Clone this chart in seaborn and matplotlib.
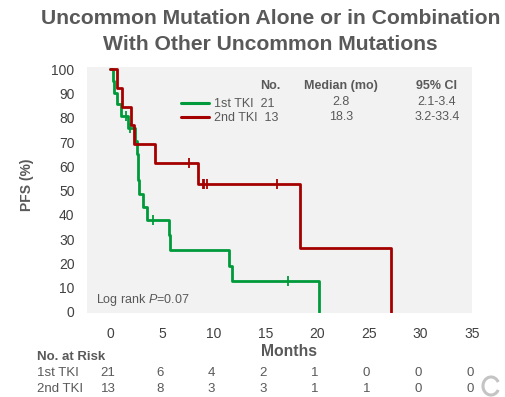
import numpy as np
import pandas as pd
import matplotlib
matplotlib.use("Agg")
import matplotlib.pyplot as plt
import seaborn as sns
from matplotlib.lines import Line2D
from matplotlib.patches import Arc
from matplotlib.transforms import blended_transform_factory

# ---------------- data ----------------
groups = ["1st TKI", "2nd TKI"]
n_patients = [21, 13]
medians = ["2.8", "18.3"]
ci95 = ["2.1-3.4", "3.2-33.4"]

tki1_times = [0.3, 0.4, 0.65, 1.0, 1.5, 1.7, 1.9, 2.4, 2.6, 2.65, 2.7, 2.75,
              3.2, 3.6, 4.1, 5.65, 5.8, 11.5, 11.8, 17.2, 20.2]
tki1_event = [1, 1, 1, 1, 0, 1, 0, 1, 1, 1, 1, 1,
              1, 1, 0, 1, 1, 1, 1, 0, 1]

tki2_times = [0.65, 1.15, 2.0, 2.3, 4.3, 7.6, 8.5, 9.0, 9.05, 9.35, 16.1, 18.4, 27.2]
tki2_event = [1, 1, 1, 1, 1, 0, 1, 0, 0, 0, 0, 1, 1]

risk_times = [0, 5, 10, 15, 20, 25, 30, 35]
risk_1st = [21, 6, 4, 2, 1, 0, 0, 0]
risk_2nd = [13, 8, 3, 3, 1, 1, 0, 0]

x_ticks = [0, 5, 10, 15, 20, 25, 30, 35]
y_ticks = [0, 10, 20, 30, 40, 50, 60, 70, 80, 90, 100]

colors = ["#009A3A", "#A50000"]


def km(times, events):
    t = np.asarray(times, float)
    e = np.asarray(events, int)
    order = np.lexsort((1 - e, t))
    t, e = t[order], e[order]
    at_risk = len(t)
    s = 1.0
    xs, ys = [0.0], [100.0]
    cens_x, cens_y = [], []
    for ti, ei in zip(t, e):
        if ei:
            s *= (at_risk - 1) / at_risk
            xs.append(ti)
            ys.append(s * 100)
        else:
            cens_x.append(ti)
            cens_y.append(s * 100)
        at_risk -= 1
    return xs, ys, cens_x, cens_y


# ---------------- style ----------------
sns.set_theme(style="white")
plt.rcParams["font.family"] = ["Liberation Sans", "DejaVu Sans"]
plt.rcParams["mathtext.fontset"] = "custom"
plt.rcParams["mathtext.rm"] = "Liberation Sans"
plt.rcParams["mathtext.it"] = "Liberation Sans:italic"

txt = "#595959"
fig = plt.figure(figsize=(5.06, 3.97), dpi=100)
ax = fig.add_axes([87 / 506, 1 - 313 / 397, (472 - 87) / 506, (313 - 67) / 397])
ax.set_facecolor("#F2F2F2")

frames = []
cens_frames = []
for g, tt, ee in [(groups[0], tki1_times, tki1_event), (groups[1], tki2_times, tki2_event)]:
    xs, ys, cx, cy = km(tt, ee)
    frames.append(pd.DataFrame({"Months": xs, "PFS": ys, "group": g}))
    cens_frames.append(pd.DataFrame({"Months": cx, "PFS": cy, "group": g}))
df = pd.concat(frames, ignore_index=True)
dfc = pd.concat(cens_frames, ignore_index=True)

palette = dict(zip(groups, colors))
for g in groups:
    sub = df[df.group == g]
    sns.lineplot(data=sub, x="Months", y="PFS", drawstyle="steps-post",
                 color=palette[g], lw=2.0, ax=ax, legend=False,
                 estimator=None, sort=False)
    subc = dfc[dfc.group == g]
    ax.plot(subc["Months"], subc["PFS"], ls="none", marker="|",
            ms=7, mew=1.3, color=palette[g])

ax.set_xlim(-2.25, 35)
ax.set_ylim(-0.5, 101)
ax.set_xticks(x_ticks)
ax.set_yticks(y_ticks)
ax.tick_params(axis="both", length=0, labelsize=10, colors="#404040")
ax.tick_params(axis="y", pad=9)
ax.tick_params(axis="x", pad=10)
for s in ax.spines.values():
    s.set_visible(False)
ax.set_xlabel("")
ax.set_ylabel("")
fig.text(27.5 / 506, 1 - 185 / 397, "PFS (%)", rotation=90, ha="center", va="center",
         fontsize=10, fontweight="bold", color=txt)

# title
fig.text(0.535, 1 - 18 / 397, "Uncommon Mutation Alone or in Combination",
         ha="center", va="center", fontsize=15.2, fontweight="bold", color=txt)
fig.text(0.535, 1 - 44 / 397, "With Other Uncommon Mutations",
         ha="center", va="center", fontsize=15.2, fontweight="bold", color=txt)

# x label
fig.text(289 / 506, 1 - 352 / 397, "Months", ha="center", va="center",
         fontsize=11.3, fontweight="bold", color=txt)

# legend
handles = [Line2D([], [], color=c, lw=2.2) for c in colors]
labels = [f"{g}  {n}" for g, n in zip(groups, n_patients)]
leg = ax.legend(handles, labels, loc="upper left", frameon=False,
                bbox_to_anchor=(175 / 506, 1 - 92 / 397), bbox_transform=fig.transFigure,
                fontsize=9, handlelength=2.2, handletextpad=0.45, labelspacing=0.15,
                borderpad=0)
for t in leg.get_texts():
    t.set_color(txt)

fig.text(270 / 506, 1 - 86 / 397, "No.", ha="center", va="center",
         fontsize=9, fontweight="bold", color=txt)
fig.text(341 / 506, 1 - 86 / 397, "Median (mo)", ha="center", va="center",
         fontsize=9, fontweight="bold", color=txt)
fig.text(437 / 506, 1 - 86 / 397, "95% CI", ha="center", va="center",
         fontsize=9, fontweight="bold", color=txt)
for i, (m, c) in enumerate(zip(medians, ci95)):
    yy = 1 - (102 + 15.5 * i) / 397
    fig.text(341 / 506, yy, m, ha="center", va="center", fontsize=9, color=txt)
    fig.text(437 / 506, yy, c, ha="center", va="center", fontsize=9, color=txt)

ax.text(96 / 506, 1 - 300 / 397, r"Log rank $\it{P}$=0.07", transform=fig.transFigure,
        ha="left", va="center", fontsize=9, color=txt)

# number at risk
fig.text(37 / 506, 1 - 357 / 397, "No. at Risk", ha="left", va="center",
         fontsize=9.5, fontweight="bold", color=txt)
tr = blended_transform_factory(ax.transData, fig.transFigure)
for row, (g, vals) in enumerate(zip(groups, [risk_1st, risk_2nd])):
    yy = 1 - (373 + 16 * row) / 397
    fig.text(37 / 506, yy, g, ha="left", va="center", fontsize=9.5, color=txt)
    for tx, v in zip(risk_times, vals):
        ax.text(tx - 0.2, yy, str(v), transform=tr, ha="center", va="center",
                fontsize=9.5, color=txt, clip_on=False)

# small decorative circle icon at bottom right
arc = Arc((491 / 506, 1 - 386 / 397), 16 / 506, 18 / 397, theta1=35, theta2=325,
          transform=fig.transFigure, color="#C4C4C4", lw=2.2)
fig.add_artist(arc)

fig.savefig("out.png", dpi=100)
